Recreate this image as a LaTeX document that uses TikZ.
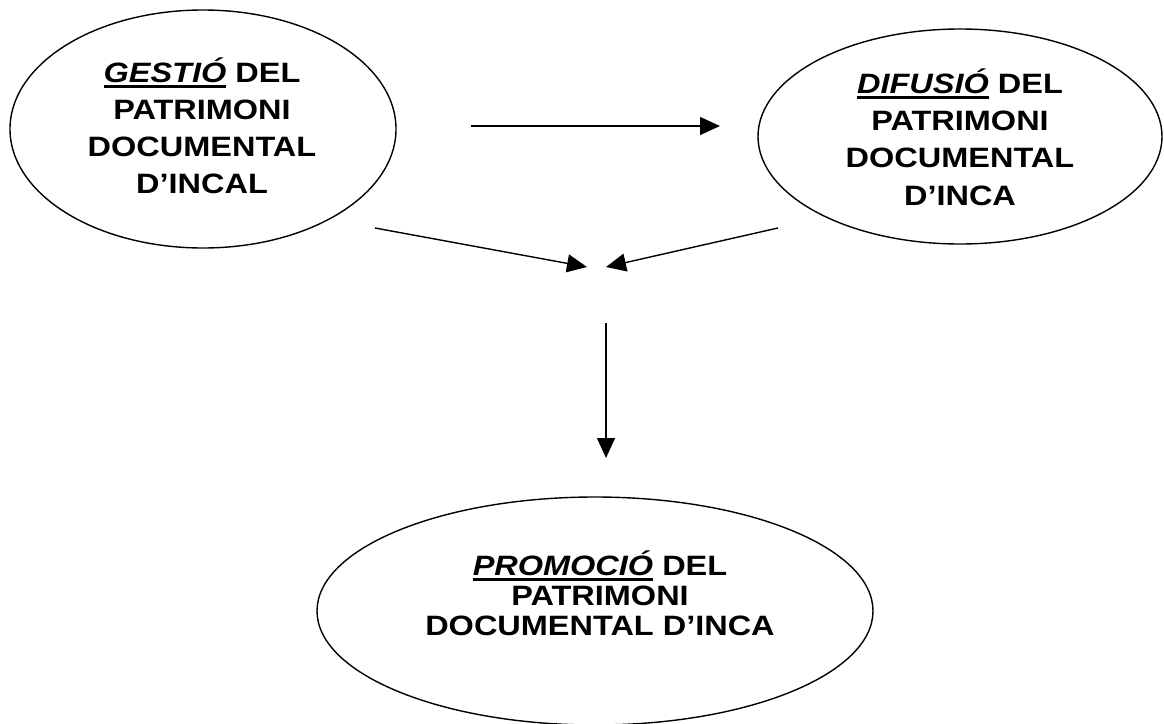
\documentclass[tikz,border=0pt]{standalone}
\usepackage{fontspec}
\setmainfont{Liberation Sans}[FakeStretch=1.16]
\usetikzlibrary{shapes.geometric,arrows.meta}
\newcommand\kwd[1]{\setbox0\hbox{\bfseries\itshape #1}\rlap{\rule[-5.5pt]{\wd0}{2.3pt}}\box0\relax}
\begin{document}
\begin{tikzpicture}[x=1pt,y=-1pt,
  bubble/.style={draw,ellipse,line width=1.4pt,inner sep=0pt},
  conn/.style={line width=1.4pt,-{Triangle[length=20pt,width=18pt]}},
  lbl/.style={anchor=base,inner sep=0pt,font=\fontsize{28}{#1}\selectfont\bfseries}]
\useasboundingbox (0,0) rectangle (1164,723);
% ellipses
\node[bubble,minimum width=386pt,minimum height=238pt] (gestio) at (203,129) {};
\node[bubble,minimum width=404pt,minimum height=215pt] (difusio) at (960,136.5) {};
\node[bubble,minimum width=556pt,minimum height=228pt] (promocio) at (595,611) {};
% texts
\node[lbl=37] (tg) at (202,193) {\begin{tabular}[b]{@{}c@{}}\kwd{GESTIÓ} DEL\\PATRIMONI\\DOCUMENTAL\\D’INCAL\end{tabular}};
\node[lbl=37.3] (td) at (960,205) {\begin{tabular}[b]{@{}c@{}}\kwd{DIFUSIÓ} DEL\\PATRIMONI\\DOCUMENTAL\\D’INCA\end{tabular}};
\node[lbl=30] (tp) at (600,635) {\begin{tabular}[b]{@{}c@{}}\kwd{PROMOCIÓ} DEL\\PATRIMONI\\DOCUMENTAL D’INCA\end{tabular}};
% connector ends
\coordinate (h1) at (471,126);
\coordinate (h2) at (720,126);
\coordinate (l1) at (375,228);
\coordinate (l2) at (587,267);
\coordinate (r1) at (778,228);
\coordinate (r2) at (606,267);
\coordinate (v1) at (606,323);
\coordinate (v2) at (606,458);
\draw[conn] (h1) -- (h2);
\draw[conn] (l1) -- (l2);
\draw[conn] (r1) -- (r2);
\draw[conn] (v1) -- (v2);
\end{tikzpicture}
\end{document}
